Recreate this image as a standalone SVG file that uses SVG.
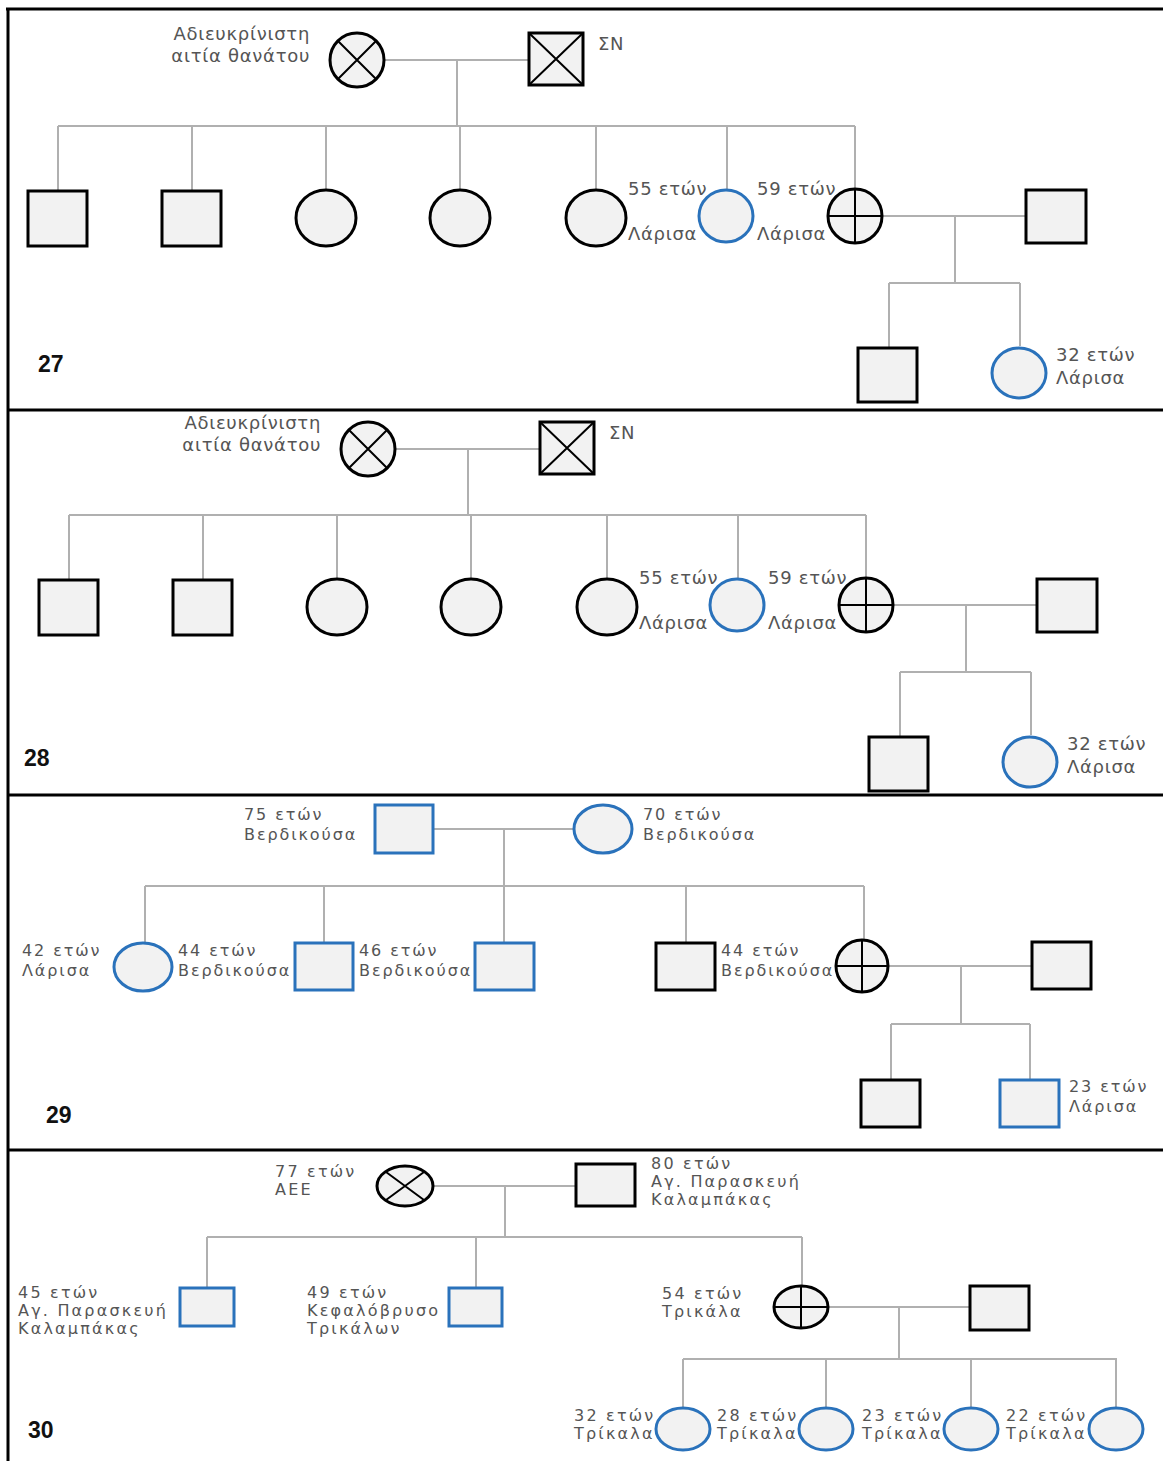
<svg xmlns="http://www.w3.org/2000/svg" width="1163" height="1461" viewBox="0 0 1163 1461">
<style>
.bg{fill:#ffffff}
.frame{stroke:#000;stroke-width:3;fill:none}
.ln{stroke:#b0b0b0;stroke-width:2;fill:none}
.k{fill:#f2f2f2;stroke:#000;stroke-width:3}
.b{fill:#f2f2f2;stroke:#2a72bb;stroke-width:3}
.x{stroke:#000;stroke-width:2;fill:none}
.t{font-family:"DejaVu Sans","Noto Sans",sans-serif;font-size:18px;fill:#555;letter-spacing:0.7px}
.t2{font-family:"DejaVu Sans","Noto Sans",sans-serif;font-size:16px;fill:#555;letter-spacing:1.9px}
.t3{font-family:"DejaVu Sans","Noto Sans",sans-serif;font-size:16px;fill:#555;letter-spacing:2.2px}
.r{text-anchor:end}
.num{font-family:"Liberation Sans",Arial,sans-serif;font-size:23px;font-weight:bold;fill:#111}
</style>
<rect class="bg" x="0" y="0" width="1163" height="1461"/>
<g id="frame">
<line class="frame" x1="6" y1="9" x2="1163" y2="9"/>
<line class="frame" x1="8" y1="8" x2="8" y2="1461"/>
<line class="frame" x1="8" y1="410" x2="1163" y2="410"/>
<line class="frame" x1="8" y1="795" x2="1163" y2="795"/>
<line class="frame" x1="8" y1="1150" x2="1163" y2="1150"/>
</g>

<!-- ============ PANEL 27 ============ -->
<g id="panel27">
<g id="p27-connectors">
<path class="ln" d="M385 60H529M457 60V126M58 126H855M58 126V191M192 126V191M326 126V190M460 126V190M596 126V190M727 126V189M855 126V189"/>
<path class="ln" d="M883 216H1026M955 216V283M889 283H1020M889 283V348M1020 283V346"/>
</g>
<g id="p27-gm"><circle class="k" cx="357" cy="60" r="27"/><path class="x" d="M338 41L376 79M376 41L338 79"/>
<text class="t r" x="310" y="40">Αδιευκρίνιστη</text><text class="t r" x="310" y="62">αιτία θανάτου</text></g>
<g id="p27-gf"><rect class="k" x="529" y="33" width="54" height="52"/><path class="x" d="M529 33L583 85M583 33L529 85"/><text class="t" x="598" y="50">ΣΝ</text></g>
<g id="p27-c1"><rect class="k" x="28" y="191" width="59" height="55"/></g>
<g id="p27-c2"><rect class="k" x="162" y="191" width="59" height="55"/></g>
<g id="p27-c3"><ellipse class="k" cx="326" cy="218" rx="30" ry="28"/></g>
<g id="p27-c4"><ellipse class="k" cx="460" cy="218" rx="30" ry="28"/></g>
<g id="p27-c5"><ellipse class="k" cx="596" cy="218" rx="30" ry="28"/></g>
<g id="p27-c6"><ellipse class="b" cx="726" cy="216" rx="27" ry="26"/><text class="t" x="628" y="195">55 ετών</text><text class="t" x="628" y="240">Λάρισα</text></g>
<g id="p27-c7"><circle class="k" cx="855" cy="216" r="27"/><path class="x" d="M855 189V243M828 216H882"/><text class="t" x="757" y="195">59 ετών</text><text class="t" x="757" y="240">Λάρισα</text></g>
<g id="p27-sp"><rect class="k" x="1026" y="190" width="60" height="53"/></g>
<g id="p27-g1"><rect class="k" x="858" y="348" width="59" height="54"/></g>
<g id="p27-g2"><ellipse class="b" cx="1019" cy="373" rx="27" ry="25"/><text class="t" x="1056" y="361">32 ετών</text><text class="t" x="1056" y="384">Λάρισα</text></g>
<text class="num" x="38" y="372">27</text>
</g>

<!-- ============ PANEL 28 ============ -->
<g id="panel28">
<g id="p28-connectors" transform="translate(11,389)">
<path class="ln" d="M385 60H529M457 60V126M58 126H855M58 126V191M192 126V191M326 126V190M460 126V190M596 126V190M727 126V189M855 126V189"/>
<path class="ln" d="M883 216H1026M955 216V283M889 283H1020M889 283V348M1020 283V346"/>
</g>
<g transform="translate(11,389)">
<g id="p28-gm"><circle class="k" cx="357" cy="60" r="27"/><path class="x" d="M338 41L376 79M376 41L338 79"/>
<text class="t r" x="310" y="40">Αδιευκρίνιστη</text><text class="t r" x="310" y="62">αιτία θανάτου</text></g>
<g id="p28-gf"><rect class="k" x="529" y="33" width="54" height="52"/><path class="x" d="M529 33L583 85M583 33L529 85"/><text class="t" x="598" y="50">ΣΝ</text></g>
<g id="p28-c1"><rect class="k" x="28" y="191" width="59" height="55"/></g>
<g id="p28-c2"><rect class="k" x="162" y="191" width="59" height="55"/></g>
<g id="p28-c3"><ellipse class="k" cx="326" cy="218" rx="30" ry="28"/></g>
<g id="p28-c4"><ellipse class="k" cx="460" cy="218" rx="30" ry="28"/></g>
<g id="p28-c5"><ellipse class="k" cx="596" cy="218" rx="30" ry="28"/></g>
<g id="p28-c6"><ellipse class="b" cx="726" cy="216" rx="27" ry="26"/><text class="t" x="628" y="195">55 ετών</text><text class="t" x="628" y="240">Λάρισα</text></g>
<g id="p28-c7"><circle class="k" cx="855" cy="216" r="27"/><path class="x" d="M855 189V243M828 216H882"/><text class="t" x="757" y="195">59 ετών</text><text class="t" x="757" y="240">Λάρισα</text></g>
<g id="p28-sp"><rect class="k" x="1026" y="190" width="60" height="53"/></g>
<g id="p28-g1"><rect class="k" x="858" y="348" width="59" height="54"/></g>
<g id="p28-g2"><ellipse class="b" cx="1019" cy="373" rx="27" ry="25"/><text class="t" x="1056" y="361">32 ετών</text><text class="t" x="1056" y="384">Λάρισα</text></g>
</g>
<text class="num" x="24" y="766">28</text>
</g>

<!-- ============ PANEL 29 ============ -->
<g id="panel29">
<g id="p29-connectors">
<path class="ln" d="M433 829H573M504 829V886M145 886H864M145 886V942M324 886V943M504 886V943M686 886V943M864 886V940"/>
<path class="ln" d="M889 966H1032M961 966V1024M891 1024H1030M891 1024V1080M1030 1024V1080"/>
</g>
<g id="p29-gf"><rect class="b" x="375" y="805" width="58" height="48"/><text class="t2" x="244" y="820">75 ετών</text><text class="t2" x="244" y="840">Βερδικούσα</text></g>
<g id="p29-gm"><ellipse class="b" cx="603" cy="829" rx="29" ry="24"/><text class="t2" x="643" y="820">70 ετών</text><text class="t2" x="643" y="840">Βερδικούσα</text></g>
<g id="p29-c1"><ellipse class="b" cx="143" cy="967" rx="29" ry="24"/><text class="t2" x="22" y="956">42 ετών</text><text class="t2" x="22" y="976">Λάρισα</text></g>
<g id="p29-c2"><rect class="b" x="295" y="943" width="58" height="47"/><text class="t2" x="178" y="956">44 ετών</text><text class="t2" x="178" y="976">Βερδικούσα</text></g>
<g id="p29-c3"><rect class="b" x="475" y="943" width="59" height="47"/><text class="t2" x="359" y="956">46 ετών</text><text class="t2" x="359" y="976">Βερδικούσα</text></g>
<g id="p29-c4"><rect class="k" x="656" y="943" width="59" height="47"/><text class="t2" x="721" y="956">44 ετών</text><text class="t2" x="721" y="976">Βερδικούσα</text></g>
<g id="p29-c5"><circle class="k" cx="862" cy="966" r="26"/><path class="x" d="M862 940V992M836 966H888"/></g>
<g id="p29-sp"><rect class="k" x="1032" y="942" width="59" height="47"/></g>
<g id="p29-g1"><rect class="k" x="861" y="1080" width="59" height="47"/></g>
<g id="p29-g2"><rect class="b" x="1000" y="1080" width="59" height="47"/><text class="t2" x="1069" y="1092">23 ετών</text><text class="t2" x="1069" y="1112">Λάρισα</text></g>
<text class="num" x="46" y="1123">29</text>
</g>

<!-- ============ PANEL 30 ============ -->
<g id="panel30">
<g id="p30-connectors">
<path class="ln" d="M433 1186H576M505 1186V1237M207 1237H802M207 1237V1288M476 1237V1288M802 1237V1286"/>
<path class="ln" d="M829 1307H970M899 1307V1359M683 1359H1117M683 1359V1407M826 1359V1407M971 1359V1407M1116 1359V1407"/>
</g>
<g id="p30-gm"><ellipse class="k" cx="405" cy="1186" rx="28" ry="20"/><path class="x" d="M386 1172L424 1200M424 1172L386 1200"/><text class="t3" x="275" y="1177">77 ετών</text><text class="t3" x="275" y="1195">ΑΕΕ</text></g>
<g id="p30-gf"><rect class="k" x="576" y="1164" width="59" height="42"/><text class="t3" x="651" y="1169">80 ετών</text><text class="t3" x="651" y="1187">Αγ. Παρασκευή</text><text class="t3" x="651" y="1205">Καλαμπάκας</text></g>
<g id="p30-c1"><rect class="b" x="180" y="1288" width="54" height="38"/><text class="t3" x="18" y="1298">45 ετών</text><text class="t3" x="18" y="1316">Αγ. Παρασκευή</text><text class="t3" x="18" y="1334">Καλαμπάκας</text></g>
<g id="p30-c2"><rect class="b" x="449" y="1288" width="53" height="38"/><text class="t3" x="307" y="1298">49 ετών</text><text class="t3" x="307" y="1316">Κεφαλόβρυσο</text><text class="t3" x="307" y="1334">Τρικάλων</text></g>
<g id="p30-c3"><ellipse class="k" cx="801" cy="1307" rx="27" ry="21"/><path class="x" d="M801 1286V1328M774 1307H828"/><text class="t3" x="662" y="1299">54 ετών</text><text class="t3" x="662" y="1317">Τρικάλα</text></g>
<g id="p30-sp"><rect class="k" x="970" y="1286" width="59" height="44"/></g>
<g id="p30-d1"><ellipse class="b" cx="683" cy="1429" rx="27" ry="21"/><text class="t3" x="574" y="1421">32 ετών</text><text class="t3" x="574" y="1439">Τρίκαλα</text></g>
<g id="p30-d2"><ellipse class="b" cx="826" cy="1429" rx="27" ry="21"/><text class="t3" x="717" y="1421">28 ετών</text><text class="t3" x="717" y="1439">Τρίκαλα</text></g>
<g id="p30-d3"><ellipse class="b" cx="971" cy="1429" rx="27" ry="21"/><text class="t3" x="862" y="1421">23 ετών</text><text class="t3" x="862" y="1439">Τρίκαλα</text></g>
<g id="p30-d4"><ellipse class="b" cx="1116" cy="1429" rx="27" ry="21"/><text class="t3" x="1006" y="1421">22 ετών</text><text class="t3" x="1006" y="1439">Τρίκαλα</text></g>
<text class="num" x="28" y="1438">30</text>
</g>
</svg>
